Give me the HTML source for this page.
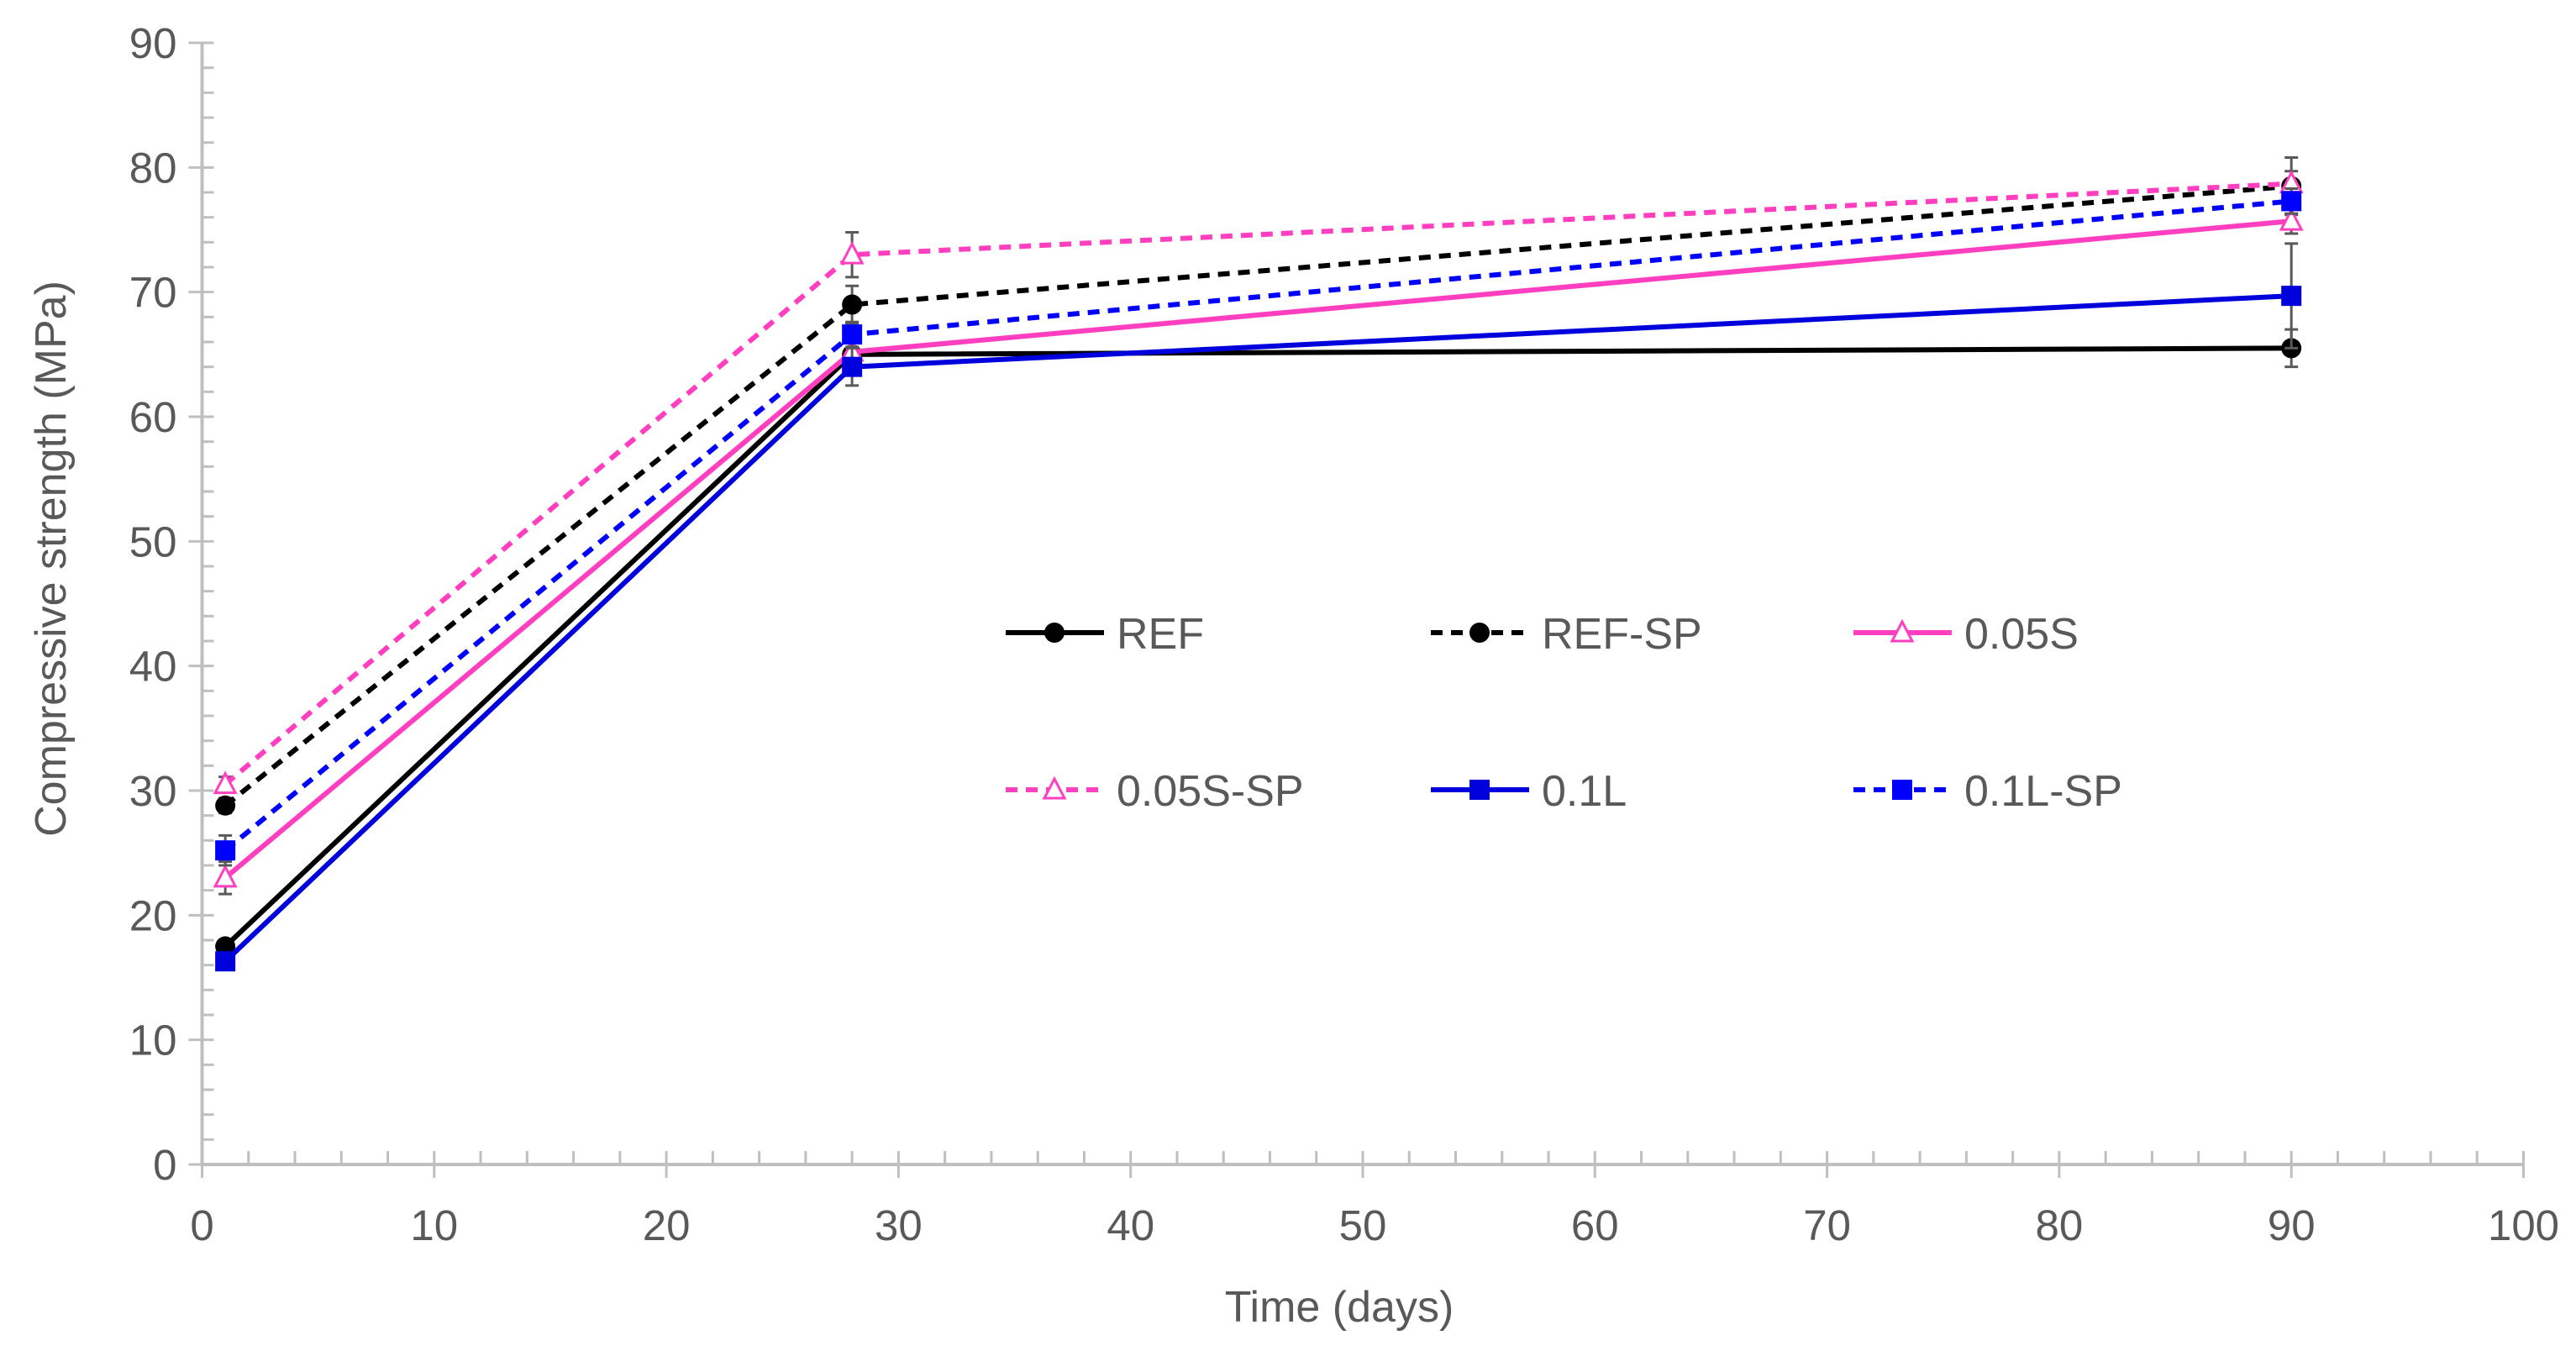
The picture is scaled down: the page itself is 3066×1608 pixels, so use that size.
<!DOCTYPE html>
<html><head><meta charset="utf-8"><style>
html,body{margin:0;padding:0;background:#fff;}
svg{display:block;}
text{font-family:"Liberation Sans",sans-serif;fill:#595959;}
</style></head><body>
<svg id="chart" width="3066" height="1608" viewBox="0 0 3066 1608" xmlns="http://www.w3.org/2000/svg">
<g id="axes"></g>
<g id="series"></g>
<g id="legend"></g>
<text x="0" y="0" font-size="52" text-anchor="middle" transform="translate(78,665) rotate(-90)">Compressive strength (MPa)</text>
<text x="1594" y="1573" font-size="52" text-anchor="middle">Time (days)</text>
</svg>
<script>
const days = [1, 28, 90];
const seriesNames = ["REF", "REF-SP", "0.05S", "0.05S-SP", "0.1L", "0.1L-SP"];
const refVals = [17.5, 65.0, 65.5];
const refSpVals = [28.8, 69.0, 78.5];
const s005Vals = [23.0, 65.2, 75.7];
const s005SpVals = [30.5, 73.0, 78.7];
const l01Vals = [16.3, 64.0, 69.7];
const l01SpVals = [25.2, 66.6, 77.3];
const refErr = [0.5, 1.5, 1.5];
const refSpErr = [0.6, 1.5, 2.3];
const s005Err = [1.3, 1.0, 1.0];
const s005SpErr = [0.6, 1.8, 1.0];
const l01Err = [0.5, 1.5, 4.2];
const l01SpErr = [1.2, 1.0, 1.0];
const xTicks = [0,10,20,30,40,50,60,70,80,90,100];
const yTicks = [0,10,20,30,40,50,60,70,80,90];

const NS = "http://www.w3.org/2000/svg";
const X0 = 240.5, X1 = 3003.5, Y0 = 1386, Y1 = 51;
const xs = v => X0 + (v - 0) / 100 * (X1 - X0);
const ys = v => Y0 - v / 90 * (Y0 - Y1);
function mk(tag, attrs, parent) {
  const e = document.createElementNS(NS, tag);
  for (const k in attrs) e.setAttribute(k, attrs[k]);
  parent.appendChild(e);
  return e;
}
const axes = document.getElementById("axes");
const AX = "#bfbfbf";
let yl = mk("line", {x1:X0, y1:Y1, x2:X0, y2:Y0, stroke:AX, "stroke-width":4}, axes);


for (let v = 0; v <= 90; v += 2) {
  if (v % 10 === 0) continue;
  mk("line", {x1:X0, y1:ys(v), x2:X0+14, y2:ys(v), stroke:AX, "stroke-width":3}, axes);
}
yTicks.forEach(v => {
  mk("line", {x1:X0-16, y1:ys(v), x2:X0+14, y2:ys(v), stroke:AX, "stroke-width":3}, axes);
  const t = mk("text", {x:X0-30, y:ys(v)+18, "font-size":51, "text-anchor":"end"}, axes);
  t.textContent = v;
  
  
});
let xl = mk("line", {x1:X0, y1:Y0, x2:X1, y2:Y0, stroke:AX, "stroke-width":4}, axes);


for (let v = 0; v <= 100; v += 2) {
  if (v % 10 === 0) continue;
  mk("line", {x1:xs(v), y1:Y0-16, x2:xs(v), y2:Y0, stroke:AX, "stroke-width":3}, axes);
}
xTicks.forEach(v => {
  mk("line", {x1:xs(v), y1:Y0-16, x2:xs(v), y2:Y0+16, stroke:AX, "stroke-width":3}, axes);
  const t = mk("text", {x:xs(v), y:Y0+90, "font-size":51, "text-anchor":"middle"}, axes);
  t.textContent = v;
  
  
});

const styles = [
  {vals:refVals, err:refErr, color:"#000000", dash:null, marker:"circle"},
  {vals:refSpVals, err:refSpErr, color:"#000000", dash:"14 10", marker:"circle"},
  {vals:s005Vals, err:s005Err, color:"#ff3fbf", dash:null, marker:"triangle"},
  {vals:s005SpVals, err:s005SpErr, color:"#ff3fbf", dash:"14 10", marker:"triangle"},
  {vals:l01Vals, err:l01Err, color:"#0000dd", dash:null, marker:"square"},
  {vals:l01SpVals, err:l01SpErr, color:"#0000ff", dash:"14 10", marker:"square"}
];
function marker(g, type, cx, cy, color) {
  let m;
  if (type === "circle") m = mk("circle", {cx:cx, cy:cy, r:12, fill:color}, g);
  else if (type === "square") m = mk("rect", {x:cx-12, y:cy-12, width:24, height:24, fill:color}, g);
  else m = mk("polygon", {points:`${cx},${cy-13} ${cx-12},${cy+10} ${cx+12},${cy+10}`, fill:"#fff", stroke:color, "stroke-width":3}, g);
  return m;
}
const sg = document.getElementById("series");
styles.forEach((s, i) => {
  const g = mk("g", {}, sg);
  
  
  days.forEach((d, j) => {
    const e = mk("path", {d:`M${xs(d)},${ys(s.vals[j]-s.err[j])}V${ys(s.vals[j]+s.err[j])}M${xs(d)-8},${ys(s.vals[j]-s.err[j])}h16M${xs(d)-8},${ys(s.vals[j]+s.err[j])}h16`, stroke:"#595959", "stroke-width":3, fill:"none"}, g);
    
    
  });
  const pts = days.map((d, j) => xs(d) + "," + ys(s.vals[j])).join(" ");
  const attrs = {points:pts, fill:"none", stroke:s.color, "stroke-width":6};
  if (s.dash) attrs["stroke-dasharray"] = s.dash;
  const pl = mk("polyline", attrs, g);
  
  
  days.forEach((d, j) => {
    const m = marker(g, s.marker, xs(d), ys(s.vals[j]), s.color);
    
    
  });
});
const lg = document.getElementById("legend");
const colX = [1197, 1703, 2206];
const rowY = [753, 940];
styles.forEach((s, i) => {
  const x = colX[i % 3], y = rowY[Math.floor(i / 3)];
  const g = mk("g", {}, lg);
  
  
  const a = {x1:x, y1:y, x2:x+117, y2:y, stroke:s.color, "stroke-width":6};
  if (s.dash) a["stroke-dasharray"] = "14 10";
  mk("line", a, g);
  marker(g, s.marker, x+58, y, s.color);
  const t = mk("text", {x:x+132, y:y+19, "font-size":52}, g);
  t.textContent = seriesNames[i];
});
</script>
</body></html>
